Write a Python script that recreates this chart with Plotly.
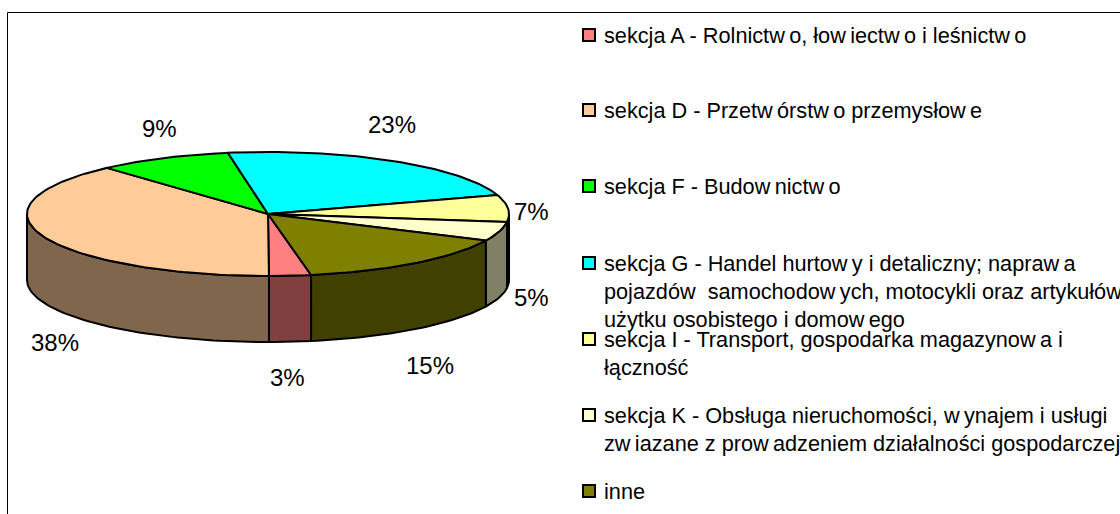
import math
import re
import plotly.graph_objects as go

# --- data ---
sections = ["sekcja A", "sekcja D", "sekcja F", "sekcja G", "sekcja I", "sekcja K", "inne"]
shares = [2.8, 38.4, 9.0, 22.7, 7.0, 5.0, 15.1]
top_colors = ["#FF8080", "#FFCC99", "#00FF00", "#00FFFF", "#FFFF99", "#FFFFCC", "#808000"]
side_colors = ["#804040", "#80664D", "#008000", "#008080", "#80804D", "#808066", "#404000"]
legend_lines = [
    ["sekcja A - Rolnictwo, łowiectwo i leśnictwo"],
    ["sekcja D - Przetwórstwo przemysłowe"],
    ["sekcja F - Budownictwo"],
    ["sekcja G - Handel hurtowy i detaliczny; naprawa",
     "pojazdów  samochodowych, motocykli oraz artykułów",
     "użytku osobistego i domowego"],
    ["sekcja I - Transport, gospodarka magazynowa i", "łączność"],
    ["sekcja K - Obsługa nieruchomości, wynajem i usługi",
     "zwiazane z prowadzeniem działalności gospodarczej"],
    ["inne"],
]

# --- layout constants (pixels of the 1120x514 page) ---
CX, CY, RX, RY, DEPTH = 268, 214, 241, 62, 66
START = 169.7  # clockwise from the top of the ellipse
label_xy = [(287, 377), (55, 342), (159, 128), (392, 124), (531, 211), (531, 297), (430, 365)]
legend_y = [[35], [110], [186], [263, 291, 319], [339, 367], [415, 443], [491]]
LEG_SQ_X, LEG_TX_X = 589, 604
FONT = "Liberation Sans, Arial, sans-serif"
LINE = dict(color="black", width=2)


def spaced(t):
    # the source renderer leaves a small gap after each "w" inside a word
    return re.sub(r"w(?=\S)", "w\u2009", t)


def arc(a0, a1, dy=0):
    n = max(2, int(abs(a1 - a0) / 1.5) + 2)
    pts = [a0 + (a1 - a0) * i / (n - 1) for i in range(n)]
    return ([CX + RX * math.sin(math.radians(t)) for t in pts],
            [CY - RY * math.cos(math.radians(t)) + dy for t in pts])


# slice angle ranges from values
ranges, a = [], START
for v in shares:
    ranges.append((a, a + v * 3.6))
    a += v * 3.6

fig = go.Figure()

# side walls: the front half of the pie, 90..270 degrees
for name, (a0, a1), col in zip(sections, ranges, side_colors):
    for shift in (0, 360, -360):
        lo, hi = max(a0 + shift, 90), min(a1 + shift, 270)
        if hi > lo:
            xt, yt = arc(lo, hi)
            xb, yb = arc(hi, lo, DEPTH)
            fig.add_trace(go.Scatter(x=xt + xb + xt[:1], y=yt + yb + yt[:1], mode="lines",
                                     fill="toself", fillcolor=col, line=LINE,
                                     name=name, showlegend=False, hoverinfo="name"))

# top faces
for name, (a0, a1), col in zip(sections, ranges, top_colors):
    xa, ya = arc(a0, a1)
    fig.add_trace(go.Scatter(x=[CX] + xa + [CX], y=[CY] + ya + [CY], mode="lines",
                             fill="toself", fillcolor=col, line=LINE,
                             name=name, showlegend=False, hoverinfo="name"))

# legend squares
fig.add_trace(go.Scatter(
    x=[LEG_SQ_X] * len(sections), y=[ys[0] for ys in legend_y], mode="markers",
    marker=dict(symbol="square", size=12, color=top_colors, line=dict(color="black", width=2)),
    showlegend=False, hoverinfo="skip"))

annotations = []
for v, (x, y) in zip(shares, label_xy):
    annotations.append(dict(x=x, y=y, text=f"{round(v)}%", showarrow=False,
                            font=dict(family=FONT, size=24, color="black"),
                            xanchor="center", yanchor="middle"))
for lines, ys in zip(legend_lines, legend_y):
    for t, y in zip(lines, ys):
        annotations.append(dict(x=LEG_TX_X, y=y, text=spaced(t), showarrow=False,
                                font=dict(family=FONT, size=21.7, color="black"),
                                xanchor="left", yanchor="middle", align="left",
                                xshift=-2))

fig.update_layout(
    width=1120, height=514, margin=dict(l=0, r=0, t=0, b=0),
    paper_bgcolor="white", plot_bgcolor="white", showlegend=False,
    xaxis=dict(range=[0, 1120], visible=False, fixedrange=True),
    yaxis=dict(range=[514, 0], visible=False, fixedrange=True),
    annotations=annotations,
    shapes=[
        dict(type="line", x0=7.5, x1=1120, y0=12.5, y1=12.5, line=dict(color="black", width=1)),
        dict(type="line", x0=7.5, x1=7.5, y0=12.5, y1=514, line=dict(color="black", width=1)),
    ],
)

fig.write_html("out.html", config={"displayModeBar": False},
               post_script="document.body.style.margin='0';document.body.style.overflow='hidden';")
